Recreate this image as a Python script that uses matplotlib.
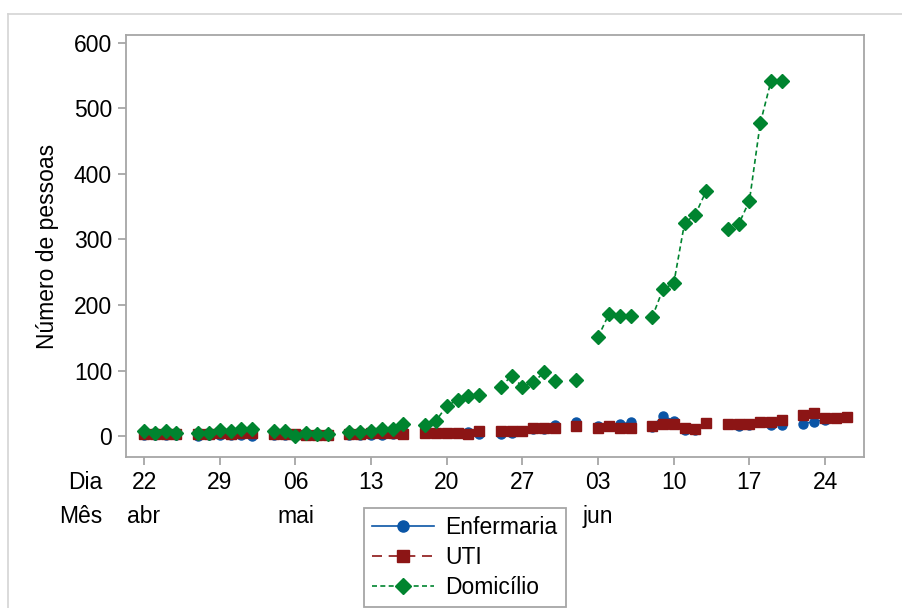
import numpy as np
import pandas as pd
import matplotlib
matplotlib.use('Agg')
import matplotlib.pyplot as plt
from matplotlib.lines import Line2D
import matplotlib.transforms as mtransforms

plt.rcParams['font.family'] = ['Liberation Sans', 'DejaVu Sans']
plt.rcParams['font.size'] = 16.5

# Datas dos boletins (dia/mês, 2020)
datas = ['22/04', '23/04', '24/04', '25/04',
         '27/04', '28/04', '29/04', '30/04', '01/05', '02/05',
         '04/05', '05/05', '06/05', '07/05', '08/05', '09/05',
         '11/05', '12/05', '13/05', '14/05', '15/05', '16/05',
         '18/05', '19/05', '20/05', '21/05', '22/05', '23/05',
         '25/05', '26/05', '27/05', '28/05', '29/05', '30/05',
         '01/06',
         '03/06', '04/06', '05/06', '06/06',
         '08/06', '09/06', '10/06', '11/06', '12/06', '13/06',
         '15/06', '16/06', '17/06', '18/06', '19/06', '20/06',
         '22/06', '23/06', '24/06', '25/06', '26/06']

enfermaria = [1, 2, 1, 2,
              0, 2, 1, 1, 1, 0,
              1, 2, 1, 1, 2, 2,
              1, 2, 2, 2, 3, 8,
              4, 4, 5, 5, 6, 3,
              3, 5, 7, 11, 11, 17,
              21,
              15, 15, 18, 21,
              14, 31, 23, 9, 9, 20,
              19, 16, 17, 22, 17, 17,
              19, 22, 25, 27, 29]

uti = [3, 3, 3, 3,
       3, 3, 4, 3, 4, 4,
       3, 3, 3, 2, 2, 2,
       3, 3, 4, 4, 4, 3,
       5, 5, 5, 5, 3, 7,
       7, 8, 8, 12, 12, 13,
       15,
       13, 15, 12, 12,
       15, 18, 18, 12, 11, 20,
       19, 19, 19, 21, 22, 25,
       32, 35, 28, 28, 29]

domicilio = [7, 5, 7, 5,
             5, 5, 9, 7, 10, 10,
             8, 8, 0, 4, 3, 3,
             6, 6, 8, 10, 10, 19,
             17, 23, 46, 55, 61, 63,
             75, 92, 75, 82, 97, 84,
             85,
             151, 186, 183, 183,
             181, 224, 233, 325, 338, 374,
             316, 323, 359, 477, 542, 542,
             None, None, None, None, None]

meses = {4: 'abr', 5: 'mai', 6: 'jun'}

df = pd.DataFrame({'enfermaria': enfermaria, 'uti': uti, 'domicilio': domicilio},
                  index=pd.to_datetime([d + '/2020' for d in datas], format='%d/%m/%Y'),
                  dtype=float)
# dias sem boletim ficam como NaN para quebrar as linhas
df = df.reindex(pd.date_range(df.index[0], df.index[-1], freq='D'))
x = (df.index - df.index[0]).days

cor_enf = '#0a55a6'
cor_uti = '#8c1515'
cor_dom = '#00842f'

fig = plt.figure(figsize=(9.02, 6.08), dpi=100)
ax = fig.add_axes([126 / 902, 1 - 457 / 608, (864 - 126) / 902, (457 - 35) / 608])

ax.plot(x, df['enfermaria'], color=cor_enf, linestyle='-', linewidth=1.2,
        marker='o', markersize=6.5)
ax.plot(x, df['uti'], color=cor_uti, linestyle=(0, (6, 4)), linewidth=1.2,
        marker='s', markersize=6.5)
ax.plot(x, df['domicilio'], color=cor_dom, linestyle=(0, (3, 2)), linewidth=1.2,
        marker='D', markersize=7)

ax.set_xlim(-1.67, 66.6)
ax.set_ylim(-32, 612)
ax.set_yticks(range(0, 601, 100))
ticks = np.arange(0, x[-1] + 1, 7)
ax.set_xticks(ticks)
ax.set_xticklabels([])

for s in ax.spines.values():
    s.set_color('#a6a6a6')
    s.set_linewidth(1.3)
ax.tick_params(colors='#a6a6a6', labelcolor='black', length=6, width=1.3, pad=4)
ax.set_ylabel('Número de pessoas', labelpad=11)

# linhas Dia / Mês abaixo do eixo
trans = mtransforms.blended_transform_factory(ax.transData, fig.transFigure)
y_dia = 1 - 489 / 608
y_mes = 1 - 523 / 608
mes_anterior = None
for t in ticks:
    d = df.index[t]
    ax.text(t, y_dia, d.strftime('%d'), transform=trans, ha='center', va='baseline')
    if d.month != mes_anterior:
        ax.text(t, y_mes, meses[d.month], transform=trans, ha='center', va='baseline')
        mes_anterior = d.month
fig.text(102 / 902, y_dia, 'Dia', ha='right', va='baseline')
fig.text(102 / 902, y_mes, 'Mês', ha='right', va='baseline')

handles = [
    Line2D([], [], color=cor_enf, linestyle='-', linewidth=1.2, marker='o', markersize=8),
    Line2D([], [], color=cor_uti, linestyle=(0, (6, 4)), linewidth=1.2, marker='s', markersize=8),
    Line2D([], [], color=cor_dom, linestyle=(0, (3, 2)), linewidth=1.2, marker='D', markersize=8),
]
leg = fig.legend(handles, ['Enfermaria', 'UTI', 'Domicílio'], loc='upper left',
                 bbox_to_anchor=(364 / 902, 1 - 508 / 608), borderaxespad=0,
                 fancybox=False, framealpha=1, edgecolor='#a6a6a6',
                 handlelength=2.7, handletextpad=0.5, labelspacing=0.3,
                 borderpad=0.35)
leg.get_frame().set_linewidth(1.3)

# moldura clara em volta
fig.add_artist(Line2D([8 / 902, 8 / 902], [0, 1 - 14 / 608], color='#d4d4d4',
                      linewidth=1.2, transform=fig.transFigure))
fig.add_artist(Line2D([8 / 902, 1], [1 - 14 / 608, 1 - 14 / 608], color='#d4d4d4',
                      linewidth=1.2, transform=fig.transFigure))

fig.savefig('out.png', dpi=100)
